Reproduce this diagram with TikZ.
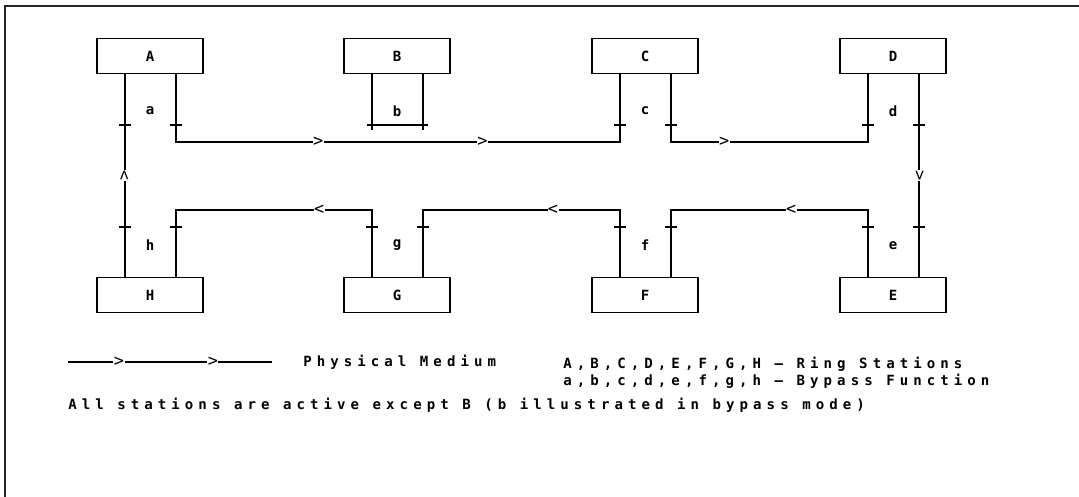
\documentclass[tikz,border=0pt]{standalone}
\usepackage{fontspec}
\newfontfamily\ringfont[LetterSpace=36]{DejaVu Sans Mono Bold}
\newfontfamily\markfont{DejaVu Sans Mono}
\usetikzlibrary{positioning,calc}

\begin{document}
\begin{tikzpicture}[x=0.025cm,y=-0.025cm,font=\ringfont\fontsize{10}{12}\selectfont,
 stn/.style={draw,line width=0.8pt,minimum width=2.65cm,minimum height=0.86cm,inner sep=0pt},
 wire/.style={line width=0.8pt},
 tk/.style={line width=0.8pt},
 dir/.style={fill=white,inner sep=0.3pt,font=\markfont\fontsize{12}{12}\selectfont},
 txt/.style={anchor=west,inner sep=0pt}]
\useasboundingbox (0,0) rectangle (1079,497);
\draw[line width=0.8pt,black!85] (1079,6) -- (5,6) -- (5,497);
% stations
\node[stn] (A) at (150,56) {A};
\node[stn] (B) at (397,56) {B};
\node[stn] (C) at (645,56) {C};
\node[stn] (D) at (893,56) {D};
\node[stn] (H) at (150,295) {H};
\node[stn] (G) at (397,295) {G};
\node[stn] (F) at (645,295) {F};
\node[stn] (E) at (893,295) {E};
\coordinate (up) at (0,142);
\coordinate (lo) at (0,210);
\coordinate (tu) at (0,125);
\coordinate (tl) at (0,227);
\foreach \s in {A,B,C,D} {
  \coordinate (\s-l) at ($(\s.south)+(-25,0)$);
  \coordinate (\s-r) at ($(\s.south)+(26,0)$);
}
\foreach \s in {E,F,G,H} {
  \coordinate (\s-l) at ($(\s.north)+(-25,0)$);
  \coordinate (\s-r) at ($(\s.north)+(26,0)$);
}
% ring, upper half
\draw[wire] (A-l) -- node[dir,rotate=90]{>} (H-l);
\draw[wire] (A-r) -- (A-r |- up) -- node[dir,pos=0.32]{>} node[dir,pos=0.69]{>} (C-l |- up) -- (C-l);
\draw[wire] (C-r) -- (C-r |- up) -- node[dir,pos=0.27]{>} (D-l |- up) -- (D-l);
\draw[wire] (D-r) -- node[dir,rotate=-90]{>} (E-r);
% ring, lower half
\draw[wire] (E-l) -- (E-l |- lo) -- node[dir,pos=0.39]{<} (F-r |- lo) -- (F-r);
\draw[wire] (F-l) -- (F-l |- lo) -- node[dir,pos=0.34]{<} (G-r |- lo) -- (G-r);
\draw[wire] (G-l) -- (G-l |- lo) -- node[dir,pos=0.27]{<} (H-r |- lo) -- (H-r);
% station B in bypass
\draw[wire] (B-l) -- ($(B-l |- tu)+(0,5)$);
\draw[wire] (B-r) -- ($(B-r |- tu)+(0,5)$);
\draw[wire] ($(B-l |- tu)+(-5,0)$) -- ($(B-r |- tu)+(5,0)$);
% ticks
\foreach \s in {A,C,D} {
  \draw[tk] ($(\s-l |- tu)+(-6,0)$) -- ($(\s-l |- tu)+(6,0)$);
  \draw[tk] ($(\s-r |- tu)+(-6,0)$) -- ($(\s-r |- tu)+(6,0)$);
}
\foreach \s in {E,F,G,H} {
  \draw[tk] ($(\s-l |- tl)+(-6,0)$) -- ($(\s-l |- tl)+(6,0)$);
  \draw[tk] ($(\s-r |- tl)+(-6,0)$) -- ($(\s-r |- tl)+(6,0)$);
}
% bypass labels
\foreach \s/\t in {A/a,B/b,C/c,D/d} {
  \node (\t) at ($(\s.south)+(0,37)$) {\t};
}
\foreach \s/\t in {H/h,G/g,F/f,E/e} {
  \node (\t) at ($(\s.north)+(0,-32)$) {\t};
}
% key
\coordinate (k1) at (68,362);
\coordinate (k2) at (272,362);
\draw[wire] (k1) -- node[dir,pos=0.25]{>} node[dir,pos=0.71]{>} (k2);
\node[txt] (pm) at (303,362) {Physical Medium};
\node[txt] (rs) at (563,364) {A,B,C,D,E,F,G,H — Ring Stations};
\node[txt] (bf) at (563,381) {a,b,c,d,e,f,g,h — Bypass Function};
\node[txt] (nt) at (68,405) {All stations are active except B (b illustrated in bypass mode)};
\end{tikzpicture}
\end{document}
